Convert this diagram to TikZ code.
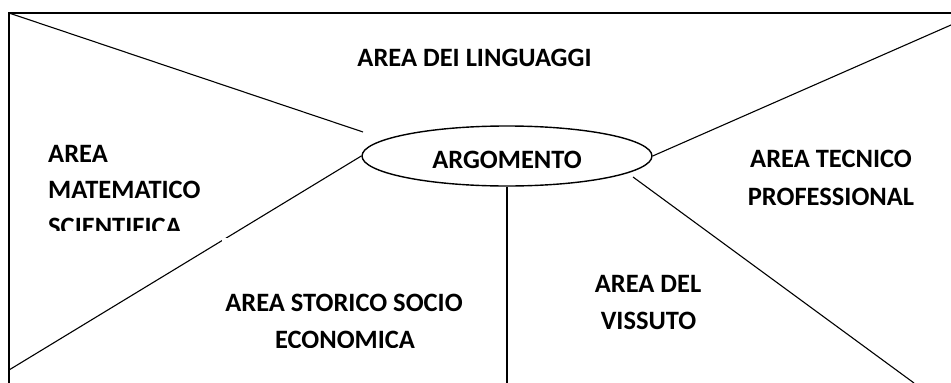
\documentclass[tikz,border=0pt]{standalone}
\usepackage{fontspec}
\setmainfont{Carlito}
\usetikzlibrary{shapes.geometric}
\begin{document}
\begin{tikzpicture}[x=1pt,y=-1pt,
  lbl/.style={font=\bfseries\fontsize{26.5}{30}\selectfont, inner sep=0pt, anchor=base},
  ln/.style={line width=1.1pt},
  frame/.style={line width=1.6pt}]
\useasboundingbox (0,0) rectangle (951,383);
% frame
\coordinate (tl) at (9,13);
\coordinate (tr) at (951,13);
\coordinate (bl) at (9,383);
\draw[frame] (bl) -- (tl) -- (tr);
% central ellipse
\node[draw, ellipse, minimum width=290pt, minimum height=60pt, inner sep=0pt, line width=1.4pt] (arg) at (507,156) {};
\node[lbl] (argt) at (507,168) {ARGOMENTO};
% connectors
\coordinate (a1) at (363,132);
\draw[ln] (tl) -- (a1);
\coordinate (l2) at (9,370);
\draw[ln] (arg.west) -- (l2);
\coordinate (vb) at (507,383);
\draw[ln] (arg.south) -- (vb);
\coordinate (b1) at (633,177);
\coordinate (b2) at (914,383);
\draw[ln] (b1) -- (b2);
\coordinate (r2) at (951,25);
\draw[ln] (arg.east) -- (r2);
% small gap in lower-left line
\fill[white] (222,238) rectangle (228,245);
% labels
\node[lbl] (ling) at (474.5,66) {AREA DEI LINGUAGGI};
\node[lbl, anchor=base west] (m1) at (48,162) {AREA};
\node[lbl, anchor=base west] (m2) at (48,198) {MATEMATICO};
\begin{scope}
\clip (0,200) rectangle (300,230);
\node[lbl, anchor=base west] (m3) at (48,235) {SCIENTIFICA};
\end{scope}
\node[lbl] (t1) at (831,167.5) {AREA TECNICO};
\node[lbl] (t2) at (831,205) {PROFESSIONAL};
\node[lbl] (s1) at (344,311) {AREA STORICO SOCIO};
\begin{scope}
\clip (200,320) rectangle (480,347);
\node[lbl] (s2) at (345,348.5) {ECONOMICA};
\end{scope}
\node[lbl] (v1) at (648,292) {AREA DEL};
\node[lbl] (v2) at (648.5,329.3) {VISSUTO};
\end{tikzpicture}
\end{document}
